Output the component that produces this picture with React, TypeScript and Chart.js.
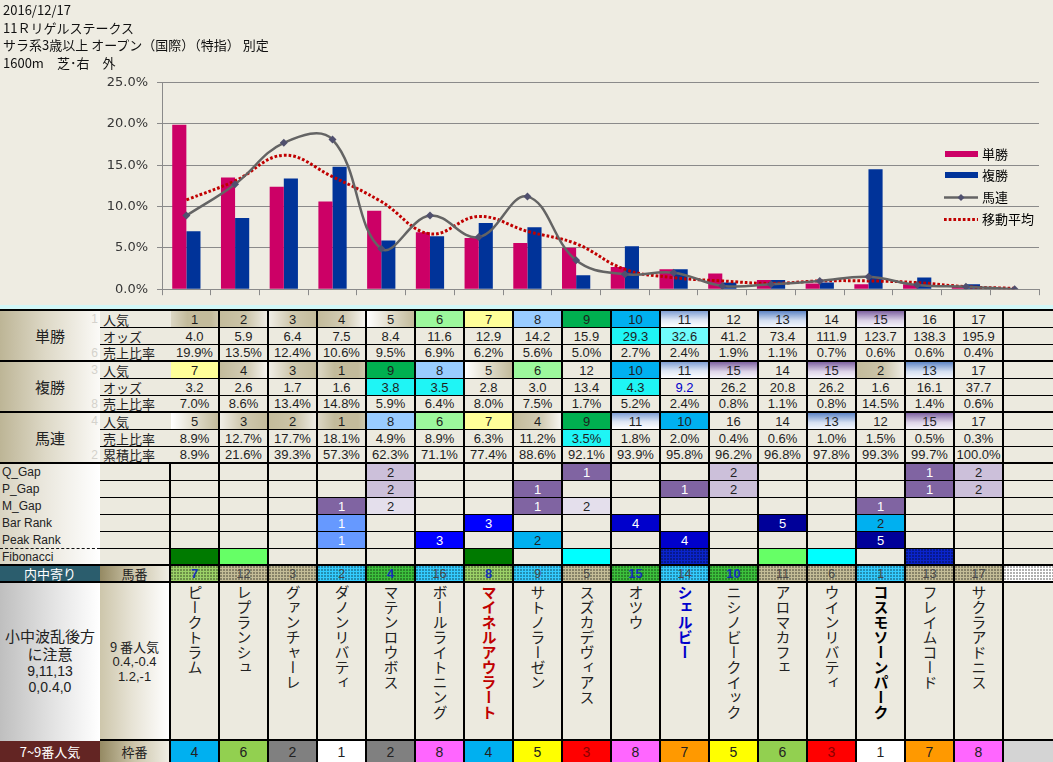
import React, { useEffect, useRef } from 'react';
import { Chart, registerables } from 'chart.js';

Chart.register(...registerables);

// ---------- header ----------
const titleLines = ['2016/12/17', '11Ｒリゲルステークス', 'サラ系3歳以上 オープン（国際）（特指） 別定', '1600m　芝･右　外'];

// ---------- chart data ----------
const categories = ['1', '2', '3', '4', '5', '6', '7', '8', '9', '10', '11', '12', '13', '14', '15', '16', '17', '18'];
const seriesNames = ['単勝', '複勝', '馬連', '移動平均'];
const winSharePct = [19.9, 13.5, 12.4, 10.6, 9.5, 6.9, 6.2, 5.6, 5.0, 2.7, 2.4, 1.9, 1.1, 0.7, 0.6, 0.6, 0.4, null];
const placeSharePct = [7.0, 8.6, 13.4, 14.8, 5.9, 6.4, 8.0, 7.5, 1.7, 5.2, 2.4, 0.8, 1.1, 0.8, 14.5, 1.4, 0.6, null];
const quinellaSharePct = [8.9, 12.7, 17.7, 18.1, 4.9, 8.9, 6.3, 11.2, 3.5, 1.8, 2.0, 0.4, 0.6, 1.0, 1.5, 0.5, 0.3, 0];
const movingAvgPct = [10.8, 13.1, 16.2, 13.6, 10.6, 6.7, 8.8, 7.0, 5.5, 2.4, 1.4, 1.0, 0.7, 1.0, 1.0, 0.8, 0.3, 0.1];
const yTickValues = [0, 5, 10, 15, 20, 25];

// ---------- table data ----------
const winPop = [1, 2, 3, 4, 5, 6, 7, 8, 9, 10, 11, 12, 13, 14, 15, 16, 17];
const winOdds = [4.0, 5.9, 6.4, 7.5, 8.4, 11.6, 12.9, 14.2, 15.9, 29.3, 32.6, 41.2, 73.4, 111.9, 123.7, 138.3, 195.9];
const winOddsMark = [0, 0, 0, 0, 0, 0, 0, 0, 0, 1, 2, 0, 0, 0, 0, 0, 0];
const placePop = [7, 4, 3, 1, 9, 8, 5, 6, 12, 10, 11, 15, 14, 15, 2, 13, 17];
const placeOdds = [3.2, 2.6, 1.7, 1.6, 3.8, 3.5, 2.8, 3.0, 13.4, 4.3, 9.2, 26.2, 20.8, 26.2, 1.6, 16.1, 37.7];
const placeOddsMark = [0, 0, 0, 0, 1, 1, 0, 0, 0, 1, 3, 0, 0, 0, 0, 0, 0];
const quinPop = [5, 3, 2, 1, 8, 6, 7, 4, 9, 11, 10, 16, 14, 13, 12, 15, 17];
const quinShareMark = [0, 0, 0, 0, 0, 0, 0, 0, 1, 0, 0, 0, 0, 0, 0, 0, 0];
const quinCum = [8.9, 21.6, 39.3, 57.3, 62.3, 71.1, 77.4, 88.6, 92.1, 93.9, 95.8, 96.2, 96.8, 97.8, 99.3, 99.7, 100.0];
const qGap = [0, 0, 0, 0, 2, 0, 0, 0, 1, 0, 0, 2, 0, 0, 0, 1, 2];
const pGap = [0, 0, 0, 0, 2, 0, 0, 1, 0, 0, 1, 2, 0, 0, 0, 1, 2];
const mGap = [0, 0, 0, 1, 2, 0, 0, 1, 2, 0, 0, 0, 0, 0, 1, 0, 0];
const barRank = [0, 0, 0, 1, 0, 0, 3, 0, 0, 4, 0, 0, 5, 0, 2, 0, 0];
const peakRank = [0, 0, 0, 1, 0, 3, 0, 2, 0, 0, 4, 0, 0, 0, 5, 0, 0];
const fibonacci = [1, 2, 0, 0, 0, 0, 1, 0, 3, 0, 4, 0, 2, 3, 0, 4, 0];
const horseNums = [7, 12, 3, 2, 4, 16, 8, 9, 5, 15, 14, 10, 11, 6, 1, 13, 17];
const laneType = [1, 4, 4, 3, 2, 3, 1, 3, 4, 2, 3, 2, 4, 4, 3, 4, 4];
const horseNames = ['ピークトラム', 'レプランシュ', 'グァンチャーレ', 'ダノンリバティ', 'マテンロウボス', 'ボールライトニング', 'マイネルアウラート', 'サトノラーゼン', 'スズカデヴィアス', 'オツウ', 'シェルビー', 'ニシノビークイック', 'アロマカフェ', 'ウインリバティ', 'コスモソーンパーク', 'フレイムコード', 'サクラアドニス'];
const nameMark = [0, 0, 0, 0, 0, 0, 1, 0, 0, 0, 2, 0, 0, 0, 3, 0, 0];
const frames = [4, 6, 2, 1, 2, 8, 4, 5, 3, 8, 7, 5, 6, 3, 1, 7, 8];
const groupLabels = ['単勝', '複勝', '馬連'];
const subLabels = ['人気', 'オッズ', '売上比率', '人気', 'オッズ', '売上比率', '人気', '売上比率', '累積比率'];
const hiddenNums = ['1', '', '6', '3', '', '8', '4', '', '2'];
const markLabels = ['Q_Gap', 'P_Gap', 'M_Gap', 'Bar Rank', 'Peak Rank', 'Fibonacci'];
const noteLines = ['小中波乱後方', 'に注意', '9,11,13', '0,0.4,0'];
const popNoteLines = ['9 番人気', '0.4,-0.4', '1.2,-1'];

// ---------- styles ----------
const CHART_BG = '#eeece2';
const CELL_BG = '#eceadf';
const GRID = '#8a8a8a';
const JP = '"Noto Sans CJK JP", sans-serif';
const NUM = '"Liberation Sans", "Noto Sans CJK JP", sans-serif';
const TEXT = '#1e1e1e';

const legendPlugin = {
  id: 'sideLegend',
  afterDraw(chart: any) {
    const { ctx, chartArea } = chart;
    const x0 = chartArea.right - 95;
    const y0 = chartArea.top + 71;
    ctx.save();
    ctx.font = '13px "Noto Sans CJK JP"';
    ctx.textBaseline = 'middle';
    chart.data.datasets.forEach((ds: any, i: number) => {
      const y = Math.round(y0 + 21.8 * i) + 0.5;
      if (ds.type === 'bar') {
        ctx.fillStyle = ds.backgroundColor;
        ctx.fillRect(x0 + 1, y - 3.5, 33, 6);
      } else if (ds.borderDash && ds.borderDash.length) {
        ctx.strokeStyle = ds.borderColor;
        ctx.lineWidth = ds.borderWidth;
        ctx.setLineDash(ds.borderDash);
        ctx.beginPath();
        ctx.moveTo(x0, y);
        ctx.lineTo(x0 + 34, y);
        ctx.stroke();
        ctx.setLineDash([]);
      } else {
        ctx.strokeStyle = ds.borderColor;
        ctx.lineWidth = ds.borderWidth;
        ctx.beginPath();
        ctx.moveTo(x0, y);
        ctx.lineTo(x0 + 34, y);
        ctx.stroke();
        ctx.fillStyle = ds.pointBackgroundColor;
        ctx.beginPath();
        const cx = x0 + 17, r = 3.5;
        ctx.moveTo(cx, y - r);
        ctx.lineTo(cx + r, y);
        ctx.lineTo(cx, y + r);
        ctx.lineTo(cx - r, y);
        ctx.closePath();
        ctx.fill();
      }
      ctx.fillStyle = '#000';
      ctx.fillText(ds.label, x0 + 38, y);
    });
    ctx.restore();
  },
};

function popBg(rank: number) {
  switch (rank) {
    case 1: return 'linear-gradient(90deg,#dcd7c4,#c3bb9b 35%,#c3bb9b 85%,#cfc8ad)';
    case 2: return 'linear-gradient(90deg,#c3bb9b,#cbc4a8 55%,#eeece4)';
    case 3: return 'linear-gradient(90deg,#f0eee6,#d0c9b0 45%,#c3bb9b)';
    case 4: return 'linear-gradient(90deg,#c3bb9b,#d3cdb6 60%,#f6f5f0)';
    case 5: return 'linear-gradient(90deg,#ffffff,#e0dccb 50%,#c3bb9b)';
    case 6: return '#9cf89c';
    case 7: return '#ffff99';
    case 8: return '#99ccff';
    case 9: return '#00b050';
    case 10: return '#00b0f0';
    case 11: return 'linear-gradient(180deg,#7f9fd4,#dfe7f5 55%,#ffffff)';
    case 13: return 'linear-gradient(180deg,#5f86c6,#d5e0f2 60%,#f4f7fc)';
    case 15: return 'linear-gradient(180deg,#7f63a1,#ddd4e8 60%,#f6f4f9)';
    default: return CELL_BG;
  }
}
const oddsBg = ['', '#1ff5f5', '#70fcfc', ''];
const gapBg = ['', '#8064a2', '#ccc0da'];
const mGapBg = ['', '#8064a2', '#e4dfec'];
const rankBg = ['', '#6699ff', '#00b0f0', '#0000ff', '#0000cc', '#000099'];
const fibBg = ['', '#007a00', '#66ff66', '#00ffff', '#0a24cc'];
const laneBg = ['', '#9bd167', '#3cc13c', '#33ccff', '#c4bd97'];
const frameBg = ['', '#ffffff', '#808080', '#ff0000', '#00b0f0', '#ffff00', '#92d050', '#ff9900', '#ff66ff'];
const nameColor = ['#222', '#c00000', '#0000cc', '#000'];
const DOTS = 'radial-gradient(circle at 1px 1px, rgba(0,0,0,0.32) 0.7px, transparent 0.9px)';

// ---------- geometry of the table (layout only) ----------
const COL0 = 170;
const COLW = 49;
const lineY = [309, 327, 344, 360, 378, 395, 411, 429, 446, 462, 480, 497, 514, 531, 548, 564, 581, 739];
const lineW = [2, 1, 1, 2, 1, 1, 2, 1, 1, 2, 1, 1, 1, 1, 1, 2, 2, 2];
const rowTop = (r: number) => lineY[r] + lineW[r];
const rowBot = (r: number) => (r + 1 < lineY.length ? lineY[r + 1] : 762);
const colLeft = (k: number) => COL0 + COLW * k + 1;
const colW = (k: number) => (k === 17 ? 1053 - colLeft(17) : COLW - 2);

function Box(props: any) {
  const { x, y, w, h, bg, color, children, style } = props;
  return (
    <div
      style={{
        position: 'absolute', left: x, top: y, width: w, height: h, background: bg || CELL_BG,
        display: 'flex', alignItems: 'center', justifyContent: 'center', color: color || TEXT,
        fontFamily: NUM, fontSize: 13, lineHeight: 1, whiteSpace: 'nowrap', overflow: 'hidden', ...style,
      }}
    >
      {children}
    </div>
  );
}

export default function App() {
  const ref = useRef<HTMLCanvasElement>(null);

  useEffect(() => {
    const chart = new Chart(ref.current as HTMLCanvasElement, {
      type: 'bar',
      data: {
        labels: categories,
        datasets: [
          { type: 'bar', label: seriesNames[0], data: winSharePct, backgroundColor: '#cc0066', order: 2, categoryPercentage: 0.58, barPercentage: 1 },
          { type: 'bar', label: seriesNames[1], data: placeSharePct, backgroundColor: '#003399', order: 2, categoryPercentage: 0.58, barPercentage: 1 },
          {
            type: 'line', label: seriesNames[2], data: quinellaSharePct, borderColor: '#646464', borderWidth: 2.5, tension: 0.4,
            pointStyle: 'rectRot', pointRadius: 4, pointBackgroundColor: '#50506e', pointBorderColor: '#50506e', pointBorderWidth: 0, order: 0, fill: false,
          },
          {
            type: 'line', label: seriesNames[3], data: movingAvgPct, borderColor: '#c00000', borderWidth: 3, borderDash: [2.7, 2.0],
            tension: 0.4, pointRadius: 0, order: 1, fill: false,
          },
        ],
      },
      options: {
        responsive: false,
        animation: false,
        devicePixelRatio: 1,
        events: [],
        layout: { padding: { top: 82.5, right: 14, left: 0, bottom: 0 } },
        plugins: { legend: { display: false }, tooltip: { enabled: false } },
        scales: {
          x: {
            grid: { display: true, drawOnChartArea: false, drawTicks: true, tickLength: 6, color: GRID, offset: true },
            border: { color: GRID },
            ticks: { display: false },
            afterFit: (s: any) => { s.height = 16; },
          },
          y: {
            min: 0,
            max: 25,
            afterBuildTicks: (s: any) => { s.ticks = yTickValues.map((v) => ({ value: v })); },
            ticks: {
              callback: (v: any) => Number(v).toFixed(1) + '%',
              color: '#363636',
              font: { family: 'DejaVu Sans', size: 13 },
              padding: 9,
            },
            grid: { color: GRID, tickLength: 5 },
            border: { color: GRID },
            afterFit: (s: any) => { s.width = 162; },
          },
        },
      },
      plugins: [legendPlugin],
    } as any);
    return () => chart.destroy();
  }, []);

  const cells: any[] = [];
  // rows 0-8 : popularity / odds / share
  const rowData = [
    { vals: winPop, kind: 'pop' },
    { vals: winOdds, kind: 'odds', mark: winOddsMark },
    { vals: winSharePct.slice(0, 17), kind: 'pct' },
    { vals: placePop, kind: 'pop' },
    { vals: placeOdds, kind: 'odds', mark: placeOddsMark },
    { vals: placeSharePct.slice(0, 17), kind: 'pct' },
    { vals: quinPop, kind: 'pop' },
    { vals: quinellaSharePct.slice(0, 17), kind: 'pct', mark: quinShareMark },
    { vals: quinCum, kind: 'pct' },
  ];
  rowData.forEach((row, r) => {
    const y = rowTop(r);
    const h = rowBot(r) - y;
    cells.push(
      <Box key={`sl${r}`} x={100} y={y} w={69} h={h} style={{ justifyContent: 'flex-start', paddingLeft: 3, fontFamily: JP, fontSize: 13 }}>
        {subLabels[r]}
      </Box>,
    );
    for (let k = 0; k < 18; k++) {
      if (k === 17) {
        cells.push(<Box key={`c${r}-${k}`} x={colLeft(k)} y={y} w={colW(k)} h={h} />);
        continue;
      }
      const v = row.vals[k] as number;
      let bg = CELL_BG;
      let color = TEXT;
      let text = '';
      if (row.kind === 'pop') { bg = popBg(v); text = String(v); }
      else if (row.kind === 'odds') {
        text = v.toFixed(1);
        const m = row.mark ? row.mark[k] : 0;
        if (m === 1 || m === 2) bg = oddsBg[m];
        if (m === 3) color = '#0000cc';
      } else {
        text = v.toFixed(1) + '%';
        const m = row.mark ? row.mark[k] : 0;
        if (m === 1) bg = oddsBg[1];
      }
      cells.push(<Box key={`c${r}-${k}`} x={colLeft(k)} y={y} w={colW(k)} h={h} bg={bg} color={color}>{text}</Box>);
    }
  });
  // group labels
  groupLabels.forEach((g, i) => {
    const y = rowTop(i * 3);
    const h = rowBot(i * 3 + 2) - y;
    cells.push(
      <Box key={`g${i}`} x={0} y={y} w={100} h={h} bg="linear-gradient(90deg,#bdb596,#ddd8c6 45%,#fbfaf7)" style={{ fontFamily: JP, fontSize: 15, color: '#222' }}>
        {g}
      </Box>,
    );
    for (let j = 0; j < 3; j++) {
      const r = i * 3 + j;
      if (!hiddenNums[r]) continue;
      cells.push(
        <div key={`hn${r}`} style={{ position: 'absolute', left: 88, top: rowTop(r), height: rowBot(r) - rowTop(r), width: 10, display: 'flex', alignItems: 'center', justifyContent: 'flex-end', color: '#d4d2cc', fontFamily: NUM, fontSize: 12 }}>
          {hiddenNums[r]}
        </div>,
      );
    }
  });
  // mark rows 9-14
  cells.push(<div key="mlab" style={{ position: 'absolute', left: 0, top: rowTop(9), width: 100, height: rowBot(14) - rowTop(9), background: 'linear-gradient(90deg,#d9d4c2,#f0eee7 60%,#ffffff)' }} />);
  cells.push(<div key="mdash" style={{ position: 'absolute', left: 0, top: lineY[14], width: 100, height: 0, borderTop: '1px dashed #111' }} />);
  const markRows = [qGap, pGap, mGap, barRank, peakRank, fibonacci];
  markRows.forEach((vals, i) => {
    const r = 9 + i;
    const y = rowTop(r);
    const h = rowBot(r) - y;
    cells.push(
      <div key={`ml${i}`} style={{ position: 'absolute', left: 2, top: y, height: h, display: 'flex', alignItems: 'center', fontFamily: NUM, fontSize: 12, color: '#222' }}>
        {markLabels[i]}
      </div>,
    );
    cells.push(<Box key={`ms${i}`} x={100} y={y} w={69} h={h} />);
    for (let k = 0; k < 18; k++) {
      const v = k < 17 ? vals[k] : 0;
      let bg = CELL_BG;
      let color = TEXT;
      let text = '';
      let extra: any = {};
      if (v) {
        if (i <= 1) { bg = gapBg[v]; color = v === 1 ? '#fff' : '#222'; text = String(v); }
        else if (i === 2) { bg = mGapBg[v]; color = v === 1 ? '#fff' : '#222'; text = String(v); }
        else if (i <= 4) { bg = rankBg[v]; color = v === 2 ? '#222' : '#fff'; text = String(v); }
        else { bg = fibBg[v]; if (v === 4) extra = { backgroundImage: DOTS, backgroundSize: '3px 3px', backgroundColor: bg }; }
      }
      cells.push(<Box key={`m${i}-${k}`} x={colLeft(k)} y={y} w={colW(k)} h={h} bg={extra.backgroundColor ? undefined : bg} color={color} style={extra}>{text}</Box>);
    }
  });
  // row 15: horse numbers
  {
    const y = rowTop(15);
    const h = rowBot(15) - y;
    cells.push(<Box key="inner" x={0} y={y} w={100} h={h} bg="#2b5d6d" color="#fff" style={{ fontFamily: JP, fontSize: 13 }}>内中寄り</Box>);
    cells.push(<Box key="umaban" x={100} y={y} w={69} h={h} bg="linear-gradient(90deg,#958a63,#cdc6ab 50%,#efede4)" color="#222" style={{ fontFamily: JP, fontSize: 13 }}>馬番</Box>);
    for (let k = 0; k < 18; k++) {
      const t = k < 17 ? laneType[k] : 0;
      const bgc = k < 17 ? laneBg[t] : '#ffffff';
      const strong = t === 1 || t === 2;
      cells.push(
        <Box key={`hn${k}`} x={colLeft(k)} y={y} w={colW(k)} h={h} color={strong ? '#1530b8' : '#4a4a4a'}
          style={{ backgroundColor: bgc, backgroundImage: DOTS, backgroundSize: '3px 3px', fontWeight: strong ? 'bold' : 'normal', fontSize: 13 }}>
          {k < 17 ? String(horseNums[k]) : ''}
        </Box>,
      );
    }
  }
  // row 16: names
  {
    const y = rowTop(16);
    const h = rowBot(16) - y;
    cells.push(
      <Box key="note" x={0} y={y} w={100} h={h} bg="linear-gradient(90deg,#bfbfbf,#e4e4e4 55%,#ffffff)" style={{ flexDirection: 'column', fontFamily: JP, color: '#222', paddingBottom: 4 }}>
        {noteLines.map((l, i) => (
          <div key={i} style={{ fontSize: i < 2 ? 15 : 14, lineHeight: i < 2 ? '18px' : '16px', fontFamily: i < 2 ? JP : NUM }}>{l}</div>
        ))}
      </Box>,
    );
    cells.push(
      <Box key="popnote" x={100} y={y} w={69} h={h} bg="linear-gradient(90deg,#cdc6ab,#e6e2d4 45%,#ffffff)" style={{ flexDirection: 'column', color: '#222' }}>
        {popNoteLines.map((l, i) => (
          <div key={i} style={{ fontSize: 13, lineHeight: '15px', fontFamily: i === 0 ? JP : NUM }}>{l}</div>
        ))}
      </Box>,
    );
    for (let k = 0; k < 18; k++) {
      const m = k < 17 ? nameMark[k] : 0;
      cells.push(
        <Box key={`nm${k}`} x={colLeft(k)} y={y} w={colW(k)} h={h} style={{ alignItems: 'flex-start' }}>
          {k < 17 ? (
            <div style={{ writingMode: 'vertical-rl', textOrientation: 'upright', fontFamily: JP, fontSize: 15, lineHeight: '20px', paddingTop: 2, color: nameColor[m], fontWeight: m ? 'bold' : 'normal' }}>
              {horseNames[k]}
            </div>
          ) : null}
        </Box>,
      );
    }
  }
  // row 17: frames
  {
    const y = rowTop(17);
    const h = 762 - y;
    cells.push(<Box key="p79" x={0} y={y} w={100} h={h} bg="#632523" color="#fff" style={{ fontFamily: JP, fontSize: 13 }}>7~9番人気</Box>);
    cells.push(<Box key="waku" x={100} y={y} w={69} h={h} bg="linear-gradient(90deg,#958a63,#cdc6ab 50%,#efede4)" color="#222" style={{ fontFamily: JP, fontSize: 13 }}>枠番</Box>);
    for (let k = 0; k < 18; k++) {
      const f = k < 17 ? frames[k] : 0;
      cells.push(
        <Box key={`fr${k}`} x={colLeft(k)} y={y} w={colW(k)} h={h} bg={f ? frameBg[f] : '#d4d4d4'} color={f === 3 ? '#8b0000' : '#222'} style={{ fontSize: 14 }}>
          {f ? String(f) : ''}
        </Box>,
      );
    }
  }

  return (
    <div style={{ position: 'fixed', left: 0, top: 0, width: 1053, height: 762, background: CHART_BG, overflow: 'hidden' }}>
      <canvas ref={ref} width={1053} height={306} style={{ position: 'absolute', left: 0, top: 0, width: 1053, height: 306, background: CHART_BG }} />
      <div style={{ position: 'absolute', left: 3, top: 1, fontFamily: JP, fontSize: 13, lineHeight: '17.7px', color: '#111', whiteSpace: 'pre' }}>
        {titleLines.map((l, i) => <div key={i}>{l}</div>)}
      </div>
      <div style={{ position: 'absolute', left: 0, top: 305, width: 1053, height: 4, background: '#d2f7f7' }} />
      <div style={{ position: 'absolute', left: 0, top: 309, width: 1053, height: 453, background: '#000' }} />
      {cells}
    </div>
  );
}
